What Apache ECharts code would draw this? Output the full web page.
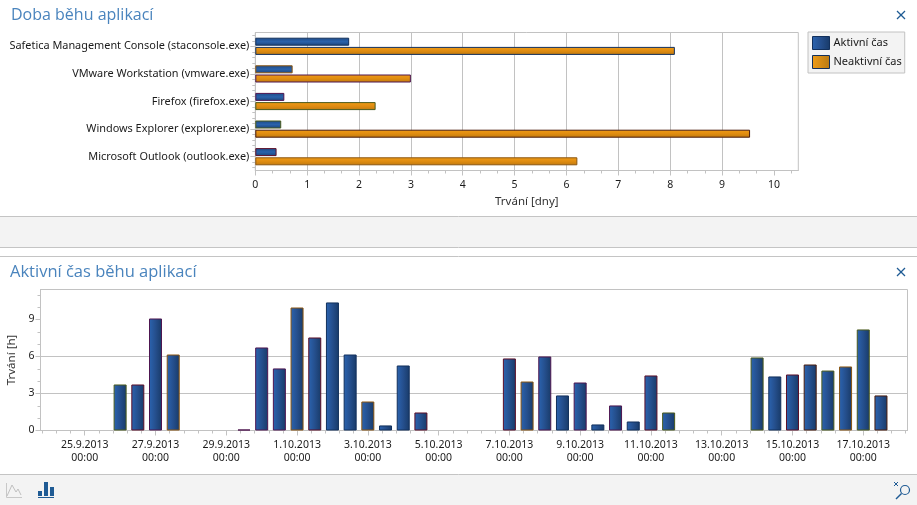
<!DOCTYPE html>
<html><head><meta charset="utf-8">
<style>html,body{margin:0;padding:0;background:#fff}#c{width:917px;height:505px}</style>
<script src="https://cdn.jsdelivr.net/npm/echarts@6/dist/echarts.min.js"></script>
</head><body><div id="c"></div>
<script>
const apps = ['Safetica Management Console (staconsole.exe)','VMware Workstation (vmware.exe)','Firefox (firefox.exe)','Windows Explorer (explorer.exe)','Microsoft Outlook (outlook.exe)'];
const activeDays = [1.81,0.72,0.56,0.50,0.41];
const inactiveDays = [8.09,3.00,2.32,9.54,6.21];
const NAVY='#12305c', BROWN='#8a5510', PURPLE='#4e1650', OLIVE='#4a5a1c', RED='#5c0f28', DKBROWN='#4a1c0c';
const activeBorders = [NAVY,BROWN,PURPLE,OLIVE,RED];
const inactiveBorders = [NAVY,PURPLE,OLIVE,DKBROWN,BROWN];
const dayTicks = [0,1,2,3,4,5,6,7,8,9,10];
// half-day slots from 24.9.2013 00:00 (index 0) to 18.10.2013 00:00 (index 48)
const activeHours = [null,null,null,null,3.73,3.73,9.08,6.16,null,null,null,0.08,6.73,5.03,9.97,7.54,10.38,6.16,2.35,0.41,5.27,1.46,null,null,null,null,5.84,3.97,6.00,2.84,3.89,0.49,2.03,0.73,4.46,1.46,null,null,null,null,5.92,4.38,4.54,5.35,4.86,5.19,8.19,2.84,null];
const slotBorders = [0,0,0,0,OLIVE,RED,PURPLE,BROWN,0,0,0,PURPLE,PURPLE,PURPLE,BROWN,RED,NAVY,NAVY,BROWN,NAVY,NAVY,RED,0,0,0,0,RED,BROWN,PURPLE,NAVY,PURPLE,NAVY,PURPLE,NAVY,RED,OLIVE,0,0,0,0,OLIVE,NAVY,RED,DKBROWN,OLIVE,BROWN,OLIVE,DKBROWN,0];
const dateLabels = ['25.9.2013','27.9.2013','29.9.2013','1.10.2013','3.10.2013','5.10.2013','7.10.2013','9.10.2013','11.10.2013','13.10.2013','15.10.2013','17.10.2013'];
const timeLabel = '00:00';
const hourTicks = [0,3,6,9];

const FONT='"Noto Sans"', TXT='#1a1a1a', LINE='#c2c2c2', TITLE='#4a84bd', ICON='#1f5b94';
const range=(a,b,s)=>{const o=[];for(let i=0;Math.round((b-a)/s*1000)/1000>=i;i++)o.push(+(a+i*s).toFixed(4));return o;};
const grad=(h,stops)=>({type:'linear',x:0,y:0,x2:h?1:0,y2:h?0:1,colorStops:stops.map((c,i)=>({offset:i/(stops.length-1),color:c}))});
const blueV=grad(false,['#1d4a86','#2a62ab','#1c4478']), orangeV=grad(false,['#f09c16','#e08c10','#bf7a10']);
const blueH=grad(true,['#2b64b0','#254f8d','#183a68']), orangeH=grad(true,['#f09c16','#b87a14']);
const DMAX=10.47, HMAX=11.43;
const SLOT=12, XMIN=-6, XMAX=activeHours.length*SLOT-6;

const bars=(vals,cols)=>vals.map((v,i)=>({value:v,itemStyle:{borderColor:cols[i]}}));
const slotData=activeHours.map((v,i)=>v==null?null:{value:[i*SLOT,v],itemStyle:{borderColor:slotBorders[i]}}).filter(Boolean);
const majorX=dateLabels.map((_,i)=>2*SLOT+i*48);
const rowCentres=apps.map((_,i)=>i+0.5);

const plain={show:false};
const mainLine={show:true,onZero:false,lineStyle:{color:LINE}};
const tickAxis=(base,custom,len)=>Object.assign({type:'value',containShape:false,axisLine:{show:false,onZero:false},splitLine:plain,axisLabel:plain,
  axisTick:{show:true,length:len,customValues:custom,lineStyle:{color:LINE}}},base);

const option={
  animation:false, backgroundColor:'#fff',
  textStyle:{fontFamily:FONT},
  title:[
    {text:'Doba běhu aplikací',left:11,top:5,padding:0,textStyle:{fontFamily:'"Open Sans"',fontWeight:'normal',fontSize:16,lineHeight:20,color:TITLE}},
    {text:'Aktivní čas běhu aplikací',left:10,top:262,padding:0,textStyle:{fontFamily:'"Open Sans"',fontWeight:'normal',fontSize:16.5,lineHeight:20,color:TITLE}}
  ],
  legend:{left:808,top:32,orient:'vertical',padding:[4,3,4,4],itemGap:5,itemWidth:17,itemHeight:13,
    backgroundColor:'#f3f3f3',borderColor:LINE,borderWidth:1,
    textStyle:{fontFamily:FONT,fontSize:11,color:TXT,padding:[0,0,0,-1]},
    data:[{name:'Aktivní čas',icon:'rect',itemStyle:{color:blueH,borderColor:NAVY,borderWidth:1}},
          {name:'Neaktivní čas',icon:'rect',itemStyle:{color:orangeH,borderColor:NAVY,borderWidth:1}}]},
  grid:[
    {left:255.3,top:32.5,width:543,height:138,show:true,borderColor:LINE,borderWidth:1,backgroundColor:'transparent',outerBoundsMode:'none'},
    {left:40.5,top:289.5,width:867,height:141,show:true,borderColor:LINE,borderWidth:1,backgroundColor:'transparent',outerBoundsMode:'none'}
  ],
  xAxis:[
    {gridIndex:0,type:'value',min:0,max:DMAX,interval:1,position:'bottom',containShape:false,
     name:'Trvání [dny]',nameLocation:'middle',nameGap:25,nameTextStyle:{fontFamily:FONT,fontSize:11.5,color:'#333'},
     axisLine:mainLine,
     axisTick:{show:true,length:5,customValues:dayTicks,lineStyle:{color:LINE}},
     axisLabel:{customValues:dayTicks,margin:9,fontFamily:FONT,fontSize:10.5,color:TXT},
     splitLine:{show:true,showMaxLine:false,lineStyle:{color:LINE}}},
    tickAxis({gridIndex:0,min:0,max:DMAX,position:'bottom'},range(0,DMAX,1/3),3),
    {gridIndex:1,type:'value',min:XMIN,max:XMAX,position:'bottom',containShape:false,
     axisLine:mainLine,
     axisTick:{show:true,length:5,customValues:majorX,lineStyle:{color:LINE}},
     axisLabel:{customValues:majorX,margin:8,lineHeight:13,fontFamily:FONT,fontSize:10.5,color:TXT,
       showMinLabel:true,showMaxLabel:true,hideOverlap:false,
       formatter:v=>dateLabels[majorX.indexOf(v)]+'\n'+timeLabel},
     splitLine:plain},
    tickAxis({gridIndex:1,min:XMIN,max:XMAX,position:'bottom'},range(24-48*3/5,XMAX,48/5),3)
  ],
  yAxis:[
    {gridIndex:0,type:'category',data:apps,inverse:true,position:'left',
     axisLine:mainLine,axisTick:plain,splitLine:plain,
     axisLabel:{margin:6,fontFamily:FONT,fontSize:10.9,color:TXT}},
    tickAxis({gridIndex:0,min:0,max:apps.length,position:'left'},rowCentres,5),
    tickAxis({gridIndex:0,min:0,max:apps.length,position:'left'},range(0.1,apps.length,0.2),3),
    {gridIndex:1,type:'value',min:0,max:HMAX,interval:3,position:'left',
     name:'Trvání [h]',nameLocation:'middle',nameGap:19,nameTextStyle:{fontFamily:FONT,fontSize:11.5,color:'#333'},
     axisLine:mainLine,
     axisTick:{show:true,length:5,customValues:hourTicks,lineStyle:{color:LINE}},
     axisLabel:{customValues:hourTicks,margin:6,fontFamily:FONT,fontSize:10.5,color:TXT},
     splitLine:{show:true,showMinLine:false,showMaxLine:false,lineStyle:{color:LINE}}},
    tickAxis({gridIndex:1,min:0,max:HMAX,position:'left'},range(0,HMAX,1),3)
  ],
  series:[
    {name:'Aktivní čas',type:'bar',xAxisIndex:0,yAxisIndex:0,barWidth:8,barGap:'15%',z:3,
     itemStyle:{color:blueV,borderColor:NAVY,borderWidth:1},data:bars(activeDays,activeBorders)},
    {name:'Neaktivní čas',type:'bar',xAxisIndex:0,yAxisIndex:0,barWidth:8,barGap:'15%',z:3,
     itemStyle:{color:orangeV,borderColor:NAVY,borderWidth:1},data:bars(inactiveDays,inactiveBorders)},
    {name:'Aktivní čas běhu',type:'bar',xAxisIndex:2,yAxisIndex:3,barWidth:13,z:3,
     itemStyle:{color:blueH,borderColor:NAVY,borderWidth:1},data:slotData}
  ],
  graphic:[
    {type:'rect',silent:true,z:-10,shape:{x:0,y:216,width:917,height:31},style:{fill:'#f3f3f3'}},
    {type:'rect',silent:true,z:-10,shape:{x:0,y:474,width:917,height:31},style:{fill:'#f3f3f3'}},
    ...[216.5,247.5,256.5,474.5].map(y=>({type:'line',silent:true,z:-9,shape:{x1:0,y1:y,x2:917,y2:y},style:{stroke:'#c4c4c4',lineWidth:1}})),
    ...[15,272].map(c=>({type:'group',silent:true,children:[
      {type:'line',shape:{x1:897,y1:c-4,x2:905,y2:c+4},style:{stroke:ICON,lineWidth:1.3}},
      {type:'line',shape:{x1:905,y1:c-4,x2:897,y2:c+4},style:{stroke:ICON,lineWidth:1.3}}]})),
    {type:'polyline',silent:true,shape:{points:[[6.5,483],[6.5,497.5],[22,497.5]]},style:{stroke:'#c8c8c8',fill:null,lineWidth:1}},
    {type:'polyline',silent:true,shape:{points:[[7,496],[12,485],[16,492],[18,489],[21,495]]},style:{stroke:'#c0c0c0',fill:null,lineWidth:1}},
    {type:'rect',silent:true,shape:{x:38,y:491,width:4,height:5},style:{fill:ICON}},
    {type:'rect',silent:true,shape:{x:44,y:482,width:4,height:14},style:{fill:ICON}},
    {type:'rect',silent:true,shape:{x:50,y:487,width:4,height:9},style:{fill:ICON}},
    {type:'rect',silent:true,shape:{x:38,y:497,width:16,height:1},style:{fill:ICON}},
    {type:'circle',silent:true,shape:{cx:905,cy:490,r:4.5},style:{stroke:ICON,fill:null,lineWidth:1.2}},
    {type:'line',silent:true,shape:{x1:901.5,y1:493.5,x2:896,y2:499},style:{stroke:ICON,lineWidth:1.4}},
    {type:'line',silent:true,shape:{x1:894,y1:482,x2:898,y2:486},style:{stroke:ICON,lineWidth:1}},
    {type:'line',silent:true,shape:{x1:898,y1:482,x2:894,y2:486},style:{stroke:ICON,lineWidth:1}}
  ]
};
echarts.init(document.getElementById('c'),null,{renderer:'canvas'}).setOption(option);
</script></body></html>
